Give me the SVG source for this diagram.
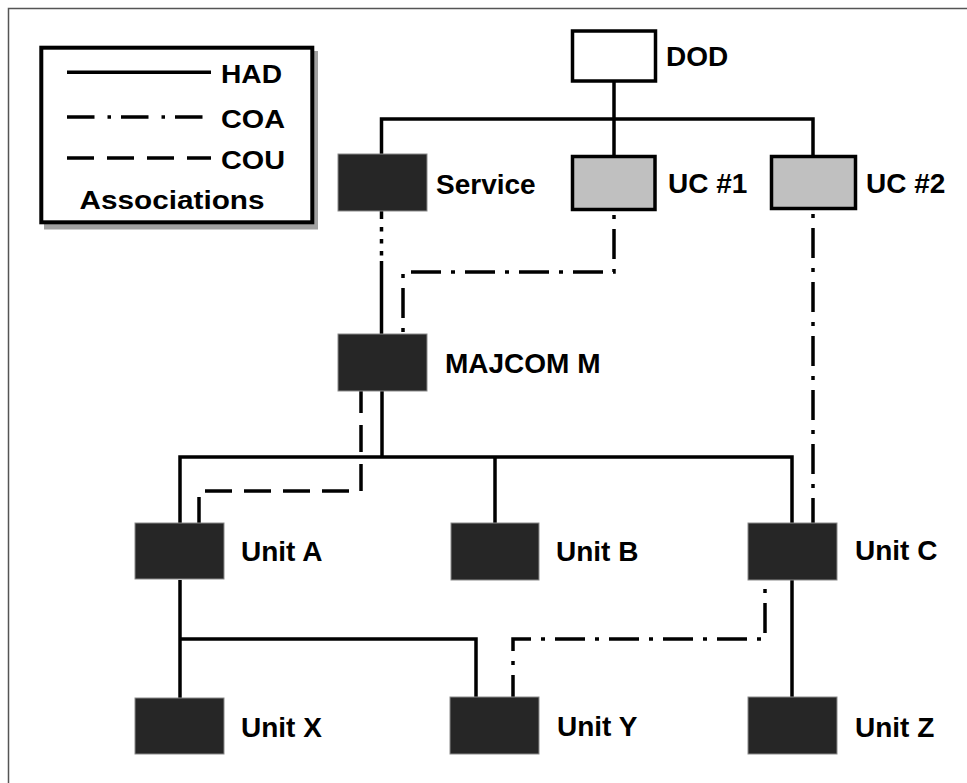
<svg xmlns="http://www.w3.org/2000/svg" width="967" height="783" viewBox="0 0 967 783">
<style>
text{font-family:"Liberation Sans",Arial,sans-serif;font-weight:bold;fill:#000}
.lbl{font-size:28px}
.leg{font-size:25px}
.dark{fill:#262626;stroke:#8a8a8a;stroke-width:1}
.uc{fill:#c0c0c0;stroke:#000;stroke-width:3.5}
.had{fill:none;stroke:#000;stroke-width:3.5}
.coa{fill:none;stroke:#000;stroke-width:3.5;stroke-dasharray:30 10 4 10}
.cou{fill:none;stroke:#000;stroke-width:3.5;stroke-dasharray:27 12}
</style>
<rect x="0" y="0" width="967" height="783" fill="#fff"/>
<rect x="8.5" y="8.5" width="1000" height="1000" fill="none" stroke="#555" stroke-width="1.5"/>

<g id="legend">
<rect x="44" y="51" width="274" height="178.5" fill="#a0a0a0"/>
<rect x="41.3" y="47.7" width="271" height="174.6" fill="#fff" stroke="#000" stroke-width="4"/>
<line x1="67" y1="72.3" x2="211" y2="72.3" stroke="#000" stroke-width="3.5"/>
<line x1="67" y1="117" x2="211" y2="117" stroke="#000" stroke-width="3.5" stroke-dasharray="27.5 13 3.5 10"/>
<line x1="67" y1="158" x2="211" y2="158" stroke="#000" stroke-width="3.5" stroke-dasharray="27 13"/>
<text class="leg" x="221" y="83.3" textLength="61" lengthAdjust="spacingAndGlyphs">HAD</text>
<text class="leg" x="221" y="128.3" textLength="64" lengthAdjust="spacingAndGlyphs">COA</text>
<text class="leg" x="221" y="169.3" textLength="64" lengthAdjust="spacingAndGlyphs">COU</text>
<text class="leg" x="79.5" y="209.3" textLength="185" lengthAdjust="spacingAndGlyphs">Associations</text>
</g>

<g id="connectors">
<path class="had" d="M614,82 V155"/>
<path class="had" d="M381.5,154 V119 H813 V155"/>
<path fill="none" stroke="#000" stroke-width="3.5" stroke-dasharray="8 8 4.5 7.5 4.5 7.5 4.5 5.5" d="M381.5,211 V261"/>
<path class="had" d="M381.5,261 V334"/>
<path class="had" d="M382,391 V457"/>
<path class="had" d="M180,523 V457 H792 V523"/>
<path class="had" d="M495,457 V523"/>
<path class="had" d="M180,580 V698"/>
<path class="had" d="M180,639 H476 V697"/>
<path class="had" d="M792,580 V697"/>
<path class="coa" stroke-dashoffset="36" d="M614,211 V272 H403 V334"/>
<path class="coa" stroke-dashoffset="36" d="M813,210 V523"/>
<path class="coa" stroke-dashoffset="31" d="M765,580 V639 H513 V697"/>
<path class="cou" stroke-dashoffset="5" d="M361,391 V491 H199 V523"/>
</g>

<g id="DOD">
<rect x="572.5" y="31" width="83" height="50" fill="#fff" stroke="#000" stroke-width="3.5"/>
<text class="lbl" x="666" y="66">DOD</text>
</g>
<g id="Service">
<rect class="dark" x="338" y="154" width="89" height="57"/>
<text class="lbl" x="436" y="194">Service</text>
</g>
<g id="UC1">
<rect class="uc" x="572.5" y="156.5" width="82.5" height="53"/>
<text class="lbl" x="668" y="193">UC #1</text>
</g>
<g id="UC2">
<rect class="uc" x="771.5" y="156.5" width="84" height="52"/>
<text class="lbl" x="866" y="193">UC #2</text>
</g>
<g id="MAJCOM">
<rect class="dark" x="338" y="334" width="89" height="57"/>
<text class="lbl" x="445" y="373">MAJCOM M</text>
</g>
<g id="UnitA">
<rect class="dark" x="135" y="523" width="89" height="56"/>
<text class="lbl" x="241" y="561">Unit A</text>
</g>
<g id="UnitB">
<rect class="dark" x="451" y="523" width="88" height="57"/>
<text class="lbl" x="556" y="561">Unit B</text>
</g>
<g id="UnitC">
<rect class="dark" x="748" y="523" width="89" height="57"/>
<text class="lbl" x="855" y="560">Unit C</text>
</g>
<g id="UnitX">
<rect class="dark" x="135" y="698" width="89" height="56"/>
<text class="lbl" x="241" y="737">Unit X</text>
</g>
<g id="UnitY">
<rect class="dark" x="450" y="697" width="89" height="57"/>
<text class="lbl" x="557" y="736">Unit Y</text>
</g>
<g id="UnitZ">
<rect class="dark" x="748" y="697" width="89" height="57"/>
<text class="lbl" x="855" y="737">Unit Z</text>
</g>
</svg>
